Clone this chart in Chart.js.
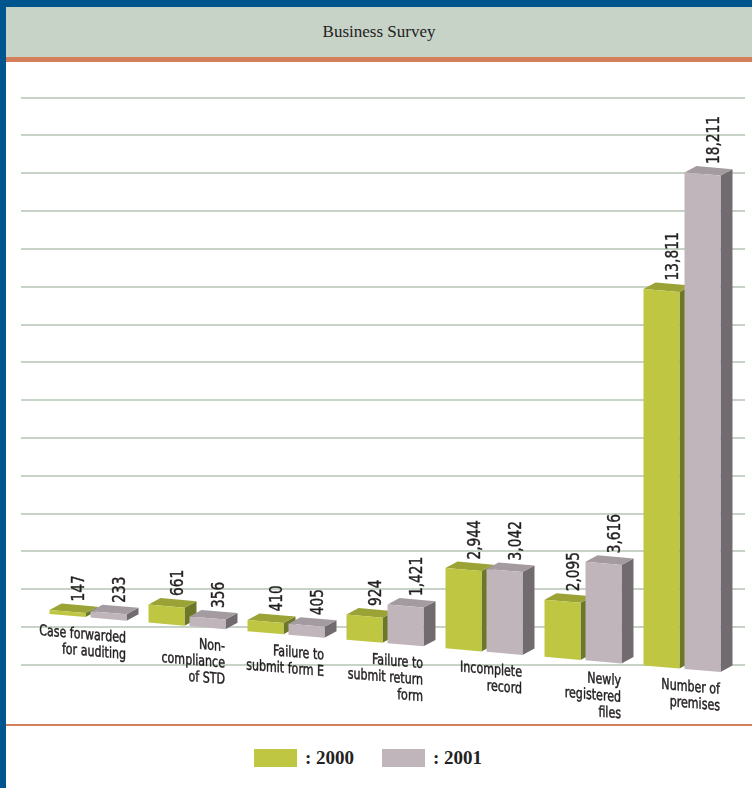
<!DOCTYPE html>
<html>
<head>
<meta charset="utf-8">
<script src="https://cdn.jsdelivr.net/npm/chart.js@4.4.1/dist/chart.umd.min.js"></script>
<style>
  html, body { margin: 0; padding: 0; background: #fff; }
  #page { position: relative; width: 752px; height: 788px; overflow: hidden; background: #fff; }
  #topband { position: absolute; left: 0; top: 0; width: 752px; height: 7px; background: #00558f; }
  #leftband { position: absolute; left: 0; top: 0; width: 6px; height: 788px; background: #00558f; }
  #header { position: absolute; left: 6px; top: 7px; width: 746px; height: 50px; background: #c8d3c8;
            font: 17px "Liberation Serif", "Times New Roman", serif; color: #222; text-align: center; line-height: 50px; }
  #headline { position: absolute; left: 6px; top: 57px; width: 746px; height: 5px; background: #d3805a; }
  #chartbox { position: absolute; left: 6px; top: 62px; width: 746px; height: 662px; }
  #footline { position: absolute; left: 6px; top: 724px; width: 746px; height: 2px; background: #d3805a; }
  #legend { position: absolute; top: 747px; left: 0; width: 752px; height: 22px;
            font: bold 19px "Liberation Serif", "Times New Roman", serif; color: #222; }
  .item { position: absolute; top: 0; height: 22px; line-height: 22px; }
  .swatch { position: absolute; top: 2px; width: 43px; height: 18px; }
  .item span.txt { position: absolute; top: 0; white-space: nowrap; }
</style>
</head>
<body>
<div id="page">
  <div id="topband"></div>
  <div id="leftband"></div>
  <div id="header">Business Survey</div>
  <div id="headline"></div>
  <div id="chartbox"><canvas id="surveyChart" width="746" height="662"></canvas></div>
  <div id="footline"></div>
  <div id="legend"></div>
</div>
<script>
const categories = [
  ['Case forwarded', 'for auditing'],
  ['Non-', 'compliance', 'of STD'],
  ['Failure to', 'submit form E'],
  ['Failure to', 'submit return', 'form'],
  ['Incomplete', 'record'],
  ['Newly', 'registered', 'files'],
  ['Number of', 'premises']
];
const years = ['2000', '2001'];
const values2000 = [147, 661, 410, 924, 2944, 2095, 13811];
const values2001 = [233, 356, 405, 1421, 3042, 3616, 18211];

// front / top / side shades for each series
const faces = [
  { front: '#bec642', top: '#9ba336', side: '#6c7827' },
  { front: '#c0b5bb', top: '#a49ba0', side: '#716b70' }
];

const narrow = '"Liberation Sans Narrow", "Arial Narrow", "DejaVu Sans Condensed", sans-serif';
const squeeze = 0.82;    // horizontal squeeze for the condensed look
const tilt = 0.0865;     // floor slopes down to the right
const pivotX = 159;      // canvas x where the floor sits at lift
const lift = -40.7;
const depth = { dx: 12, dy: -7.5 };

function floorShift(x) {
  return tilt * (x - pivotX) + lift;
}

// filled text with a hairline outline so it reads a little heavier
function heavyText(ctx, str) {
  ctx.fillText(str, 0, 0);
  ctx.strokeText(str, 0, 0);
}

function drawBox(ctx, el, shade) {
  const l = el.x - el.width / 2;
  const r = el.x + el.width / 2;
  const top = el.y;
  const base = el.base;
  const { dx, dy } = depth;

  ctx.fillStyle = shade.side;
  ctx.beginPath();
  ctx.moveTo(r, top);
  ctx.lineTo(r + dx, top + dy);
  ctx.lineTo(r + dx, base + dy);
  ctx.lineTo(r, base);
  ctx.closePath();
  ctx.fill();

  ctx.fillStyle = shade.top;
  ctx.beginPath();
  ctx.moveTo(l, top);
  ctx.lineTo(r, top);
  ctx.lineTo(r + dx, top + dy);
  ctx.lineTo(l + dx, top + dy);
  ctx.closePath();
  ctx.fill();

  ctx.fillStyle = shade.front;
  ctx.fillRect(l, top, r - l, base - top);
}

const boxes3d = {
  id: 'boxes3d',
  beforeDatasetsDraw(chart) {
    const { ctx, scales: { x, y } } = chart;

    // horizontal rules
    ctx.save();
    ctx.strokeStyle = '#c6d3c6';
    ctx.lineWidth = 2;
    y.ticks.forEach(t => {
      const py = Math.round(y.getPixelForValue(t.value));
      ctx.beginPath();
      ctx.moveTo(15, py);
      ctx.lineTo(739, py);
      ctx.stroke();
    });
    ctx.restore();

    const metas = chart.data.datasets.map((d, i) => chart.getDatasetMeta(i));

    // boxes, left to right so each front covers the previous side
    ctx.save();
    ctx.transform(1, tilt, 0, 1, 0, lift - tilt * pivotX);
    categories.forEach((c, i) => {
      metas.forEach((meta, di) => drawBox(ctx, meta.data[i], faces[di]));
    });

    // category names sit on the sloping floor
    ctx.fillStyle = '#231f20';
    ctx.strokeStyle = '#231f20';
    ctx.lineWidth = 0.45;
    ctx.font = '15px ' + narrow;
    ctx.textAlign = 'right';
    ctx.textBaseline = 'middle';
    categories.forEach((lines, i) => {
      const cx = x.getPixelForValue(i);
      lines.forEach((line, li) => {
        ctx.save();
        ctx.translate(cx + 38, y.getPixelForValue(0) + 18 + li * 16.5);
        ctx.scale(squeeze, 1);
        heavyText(ctx, line);
        ctx.restore();
      });
    });
    ctx.restore();

    // value labels, upright
    ctx.save();
    ctx.fillStyle = '#231f20';
    ctx.strokeStyle = '#231f20';
    ctx.lineWidth = 0.4;
    ctx.font = '17px ' + narrow;
    ctx.textAlign = 'left';
    ctx.textBaseline = 'middle';
    metas.forEach((meta, di) => {
      const data = chart.data.datasets[di].data;
      meta.data.forEach((el, i) => {
        const topY = el.y + floorShift(el.x);
        ctx.save();
        ctx.translate(el.x + 12, topY - 10);
        ctx.rotate(-Math.PI / 2);
        ctx.scale(0.9, 1);
        heavyText(ctx, data[i].toLocaleString('en-US'));
        ctx.restore();
      });
    });
    ctx.restore();

    return false;
  }
};

const chart = new Chart(document.getElementById('surveyChart').getContext('2d'), {
  type: 'bar',
  data: {
    labels: categories,
    datasets: [
      { label: years[0], data: values2000, backgroundColor: faces[0].front },
      { label: years[1], data: values2001, backgroundColor: faces[1].front }
    ]
  },
  options: {
    responsive: false,
    animation: false,
    categoryPercentage: 0.828,
    barPercentage: 0.878,
    layout: { padding: { left: 32.5, right: 20.5, top: 35.7, bottom: 59.3 } },
    scales: {
      x: { display: false },
      y: { display: false, min: 0, max: 20800, ticks: { count: 16 } }
    },
    plugins: {
      legend: { display: false },
      tooltip: { enabled: false }
    }
  },
  plugins: [boxes3d]
});

// legend under the footer rule
const legend = document.getElementById('legend');
const legendX = [254, 382];
chart.data.datasets.forEach((ds, i) => {
  const item = document.createElement('div');
  item.className = 'item';
  item.style.left = legendX[i] + 'px';
  item.innerHTML = '<div class="swatch" style="left:0;background:' + ds.backgroundColor +
    '"></div><span class="txt" style="left:51px">: ' + ds.label + '</span>';
  legend.appendChild(item);
});
</script>
</body>
</html>
